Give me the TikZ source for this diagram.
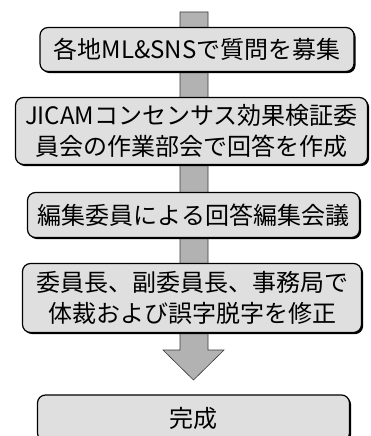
\documentclass[tikz,border=0pt]{standalone}
\usepackage{fontspec}
\newfontfamily\jp{Noto Sans CJK JP}
\usetikzlibrary{shadows}
\begin{document}
\begin{tikzpicture}[x=1pt,y=-1pt,
  stepbox/.style={draw=black, line width=1.2pt, rounded corners=8pt, fill=gray!25,
    align=center, font=\jp\fontsize{24}{31}\selectfont, inner sep=0pt,
    drop shadow={shadow xshift=1.6pt, shadow yshift=-1.6pt, fill=black, opacity=1}},
  barfill/.style={fill=gray!60, draw=gray!45!black, line width=0.6pt}]
\useasboundingbox (0,0) rectangle (371,436);
\clip (0,0) rectangle (371,436);
\fill[white] (0,0) rectangle (371,436);
% coordinates of the grey bar arrow
\coordinate (bartop) at (194,12);
\coordinate (tip) at (193.5,380);
% bar behind the boxes
\draw[barfill] (180,12) -- (208,12) -- (208,350) -- (224,350) -- (tip) -- (163,350) -- (180,350) -- cycle;
\node[stepbox, minimum width=314pt, minimum height=44pt] (b1) at (197,49.5) {各地ML\&SNSで質問を募集};
\node[stepbox, minimum width=352pt, minimum height=67pt] (b2) at (191.5,131) {JICAMコンセンサス効果検証委\\員会の作業部会で回答を作成};
\node[stepbox, minimum width=332pt, minimum height=45pt] (b3) at (193.5,215) {編集委員による回答編集会議};
\node[stepbox, minimum width=339pt, minimum height=69pt] (b4) at (192,298) {委員長、副委員長、事務局で\\体裁および誤字脱字を修正};
\node[stepbox, minimum width=312pt, minimum height=46pt] (b5) at (193.5,418) {完成};
\end{tikzpicture}
\end{document}
